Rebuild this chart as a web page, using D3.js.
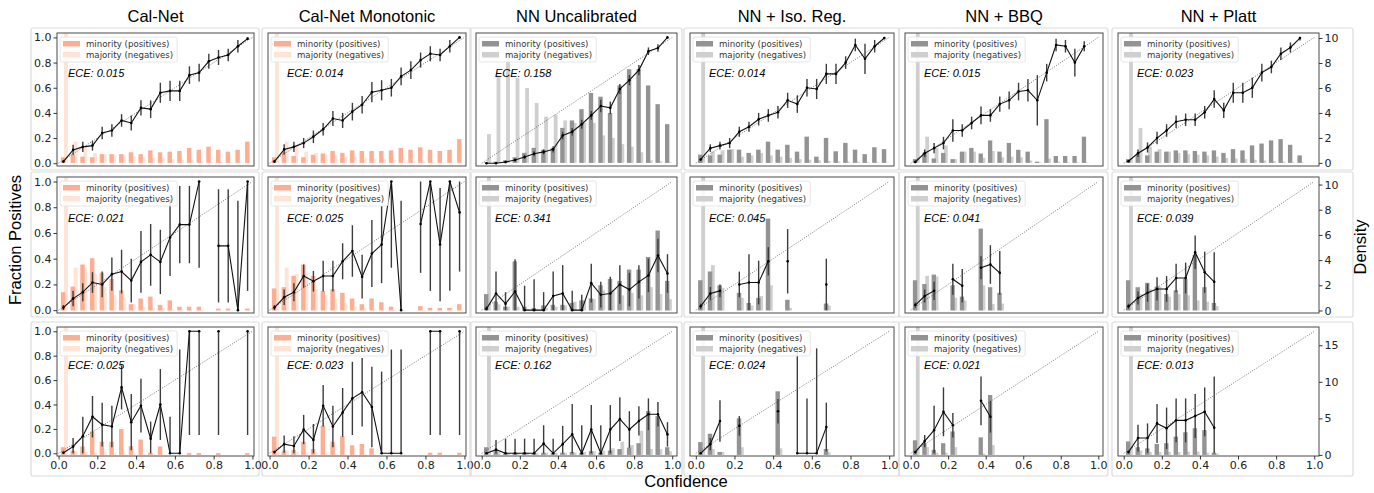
<!DOCTYPE html>
<html>
<head>
<meta charset="utf-8">
<script src="https://cdn.jsdelivr.net/npm/d3@7"></script>
<style>
body { margin: 0; background: #fff; }
text { font-family: "DejaVu Sans", sans-serif; }
</style>
</head>
<body>
<svg id="chart" width="1374" height="493"></svg>
<script>
//chart values
var methods = ["Cal-Net", "Cal-Net Monotonic", "NN Uncalibrated", "NN + Iso. Reg.", "NN + BBQ", "NN + Platt"];
var binCenters = [0.025, 0.075, 0.125, 0.175, 0.225, 0.275, 0.325, 0.375, 0.425, 0.475,
                  0.525, 0.575, 0.625, 0.675, 0.725, 0.775, 0.825, 0.875, 0.925, 0.975];
var eceValues = [
    ["0.015", "0.014", "0.158", "0.014", "0.015", "0.023"],
    ["0.021", "0.025", "0.341", "0.045", "0.041", "0.039"],
    ["0.025", "0.023", "0.162", "0.024", "0.021", "0.013"]
];
var fracTicks = [0, 0.2, 0.4, 0.6, 0.8, 1.0];
var confTicks = [0, 0.2, 0.4, 0.6, 0.8, 1.0];
var densityTicks = [[0, 2, 4, 6, 8, 10], [0, 2, 4, 6, 8, 10], [0, 5, 10, 15]];
var legendLabels = ["minority (positives)", "majority (negatives)"];

//fraction of positives per bin (row 1)
var frac0 = [
    [0.013, 0.106, 0.13, 0.14, 0.24, 0.26, 0.34, 0.32, 0.44, 0.43, 0.56, 0.575, 0.575, 0.70, 0.72, 0.81, 0.84, 0.86, 0.93, 0.99],
    [0.013, 0.11, 0.13, 0.16, 0.21, 0.27, 0.355, 0.34, 0.41, 0.465, 0.565, 0.58, 0.60, 0.69, 0.74, 0.82, 0.87, 0.86, 0.93, 1.0],
    [0.0, 0.0, 0.01, 0.025, 0.05, 0.075, 0.09, 0.11, 0.22, 0.25, 0.31, 0.38, 0.455, 0.44, 0.59, 0.66, 0.74, 0.89, 0.915, 1.0],
    [0.03, 0.12, 0.14, 0.16, 0.25, 0.29, 0.35, 0.38, 0.405, 0.50, 0.47, 0.60, 0.59, 0.71, 0.71, 0.80, 0.94, 0.83, 0.93, 0.995],
    [0.01, 0.08, 0.12, 0.16, 0.26, 0.26, 0.32, 0.38, 0.38, 0.47, 0.50, 0.57, 0.58, 0.50, 0.72, 0.94, 0.93, 0.80, 0.93, null],
    [0.016, 0.08, 0.125, 0.2, 0.26, 0.33, 0.345, 0.345, 0.405, 0.51, 0.42, 0.56, 0.56, 0.60, 0.72, 0.765, 0.87, 0.92, 0.995, null]
];
var err0 = [
    [0.01, 0.04, 0.04, 0.04, 0.05, 0.05, 0.05, 0.06, 0.06, 0.07, 0.08, 0.08, 0.08, 0.07, 0.07, 0.06, 0.06, 0.05, 0.05, 0.01],
    [0.01, 0.04, 0.04, 0.04, 0.05, 0.05, 0.06, 0.06, 0.07, 0.07, 0.08, 0.08, 0.07, 0.07, 0.07, 0.06, 0.06, 0.05, 0.05, 0.01],
    [0.005, 0.005, 0.01, 0.01, 0.015, 0.02, 0.02, 0.025, 0.03, 0.03, 0.035, 0.035, 0.05, 0.05, 0.04, 0.04, 0.04, 0.03, 0.03, 0.01],
    [0.01, 0.03, 0.03, 0.04, 0.04, 0.04, 0.05, 0.05, 0.05, 0.06, 0.07, 0.07, 0.08, 0.08, 0.08, 0.05, 0.05, 0.12, 0.05, 0.01],
    [0.01, 0.03, 0.04, 0.05, 0.09, 0.05, 0.05, 0.07, 0.05, 0.06, 0.07, 0.07, 0.09, 0.2, 0.07, 0.05, 0.05, 0.11, 0.04, null],
    [0.01, 0.03, 0.04, 0.05, 0.05, 0.05, 0.05, 0.05, 0.05, 0.07, 0.06, 0.08, 0.08, 0.08, 0.07, 0.05, 0.05, 0.04, 0.02, null]
];
var min0 = [
    [0.45, 0.65, 0.5, 0.45, 0.7, 0.7, 0.7, 0.85, 0.7, 1.0, 0.85, 0.9, 0.95, 1.2, 1.05, 1.3, 1.05, 0.9, 1.05, 1.7],
    [0.45, 0.9, 0.55, 0.45, 0.65, 0.75, 0.95, 0.8, 1.0, 0.95, 0.95, 0.95, 1.0, 1.2, 1.05, 1.25, 1.05, 0.95, 1.05, 1.9],
    [0.05, 0.1, 0.2, 0.45, 0.8, 1.2, 1.05, 1.2, 2.8, 3.4, 4.3, 5.6, 5.3, 4.0, 6.2, 7.5, 7.5, 6.2, 4.7, 3.1],
    [0.66, 0.6, 0.66, 1.06, 1.06, 0.8, 1.06, 1.7, 1.06, 1.45, 0.9, 2.1, 0.5, 2.0, 0.93, 1.6, 1.06, 0.7, 1.25, 1.1],
    [0.3, 0.8, 0.35, 0.8, 0.3, 0.9, 1.2, 0.75, 1.8, 0.9, 1.6, 1.05, 0.9, 0.1, 3.5, 0.55, 0.55, 0.55, 2.1, 0],
    [0.3, 0.7, 0.6, 0.9, 0.9, 1.0, 1.0, 0.95, 0.9, 1.0, 0.8, 1.1, 1.0, 1.4, 1.55, 1.8, 1.9, 1.45, 0.6, 0]
];
var maj0 = [
    [20, 1.7, 1.4, 0.8, 0.7, 0.65, 0.6, 0.5, 0.45, 0.4, 0.35, 0.3, 0.25, 0.2, 0.15, 0.12, 0.1, 0.06, 0.04, 0.02],
    [20, 1.7, 1.45, 0.9, 0.8, 0.7, 0.6, 0.5, 0.45, 0.4, 0.35, 0.3, 0.25, 0.2, 0.15, 0.1, 0.08, 0.05, 0.04, 0.02],
    [2.3, 7.0, 9.3, 6.8, 6.0, 4.8, 3.7, 3.85, 3.4, 3.2, 3.2, 3.2, 2.2, 2.0, 1.5, 1.3, 0.85, 0.2, 0.13, 0.05],
    [20, 0.9, 1.0, 1.1, 0.5, 0.6, 0.8, 0.6, 0.5, 0.4, 0.3, 0.25, 0.2, 0.15, 0.12, 0.1, 0.08, 0.05, 0.04, 0.02],
    [20, 2.1, 1.2, 1.4, 0.3, 0.9, 0.9, 0.4, 0.95, 0.45, 0.5, 0.45, 0.2, 0.05, 0.35, 0.1, 0.05, 0.05, 0.05, 0],
    [20, 2.8, 1.3, 1.1, 0.9, 0.8, 0.7, 0.65, 0.6, 0.5, 0.4, 0.35, 0.3, 0.25, 0.2, 0.15, 0.1, 0.05, 0.05, 0]
];

//row 2
var frac1 = [
    [0.02, 0.09, 0.14, 0.215, 0.20, 0.28, 0.30, 0.23, 0.375, 0.43, 0.375, 0.565, 0.665, 0.665, 1.0, null, 0.5, 0.5, 0.0, 1.0],
    [0.02, 0.10, 0.14, 0.265, 0.225, 0.265, 0.265, 0.38, 0.46, 0.26, 0.44, 0.51, 1.0, 0.0, null, 0.67, 1.0, 0.51, 1.0, 0.76],
    [0.01, 0.13, 0.05, 0.145, 0.0, 0.0, 0.0, 0.11, 0.13, 0.0, 0.0, 0.21, 0.12, 0.13, 0.2, 0.16, 0.22, 0.27, 0.425, 0.285],
    [0.03, 0.13, 0.15, null, 0.2, 0.215, 0.215, 0.38, null, 0.38, null, null, null, 0.2, null, null, null, null, null, null],
    [0.04, 0.11, 0.15, null, 0.24, 0.19, null, 0.33, 0.355, 0.29, null, null, null, null, null, null, null, null, null, null],
    [0.03, 0.095, 0.135, 0.165, 0.165, 0.25, 0.25, 0.45, 0.295, 0.22, null, null, null, null, null, null, null, null, null, null]
];
var err1 = [
    [0.02, 0.06, 0.07, 0.08, 0.1, 0.13, 0.17, 0.17, 0.24, 0.24, 0.25, 0.3, 0.3, 0.3, 0.67, null, 0.44, 0.44, 0.85, 0.85],
    [0.02, 0.06, 0.07, 0.09, 0.08, 0.12, 0.12, 0.14, 0.2, 0.17, 0.26, 0.3, 0.67, 0.85, null, 0.38, 0.85, 0.44, 0.85, 0.46],
    [0.02, 0.17, 0.09, 0.25, 0.19, 0.24, 0.14, 0.19, 0.22, 0.15, 0.12, 0.15, 0.1, 0.13, 0.15, 0.13, 0.13, 0.13, 0.13, 0.15],
    [0.02, 0.05, 0.05, null, 0.1, 0.22, 0.17, 0.11, null, 0.25, null, null, null, 0.2, null, null, null, null, null, null],
    [0.02, 0.05, 0.07, null, 0.12, 0.13, null, 0.09, 0.15, 0.17, null, null, null, null, null, null, null, null, null, null],
    [0.02, 0.05, 0.07, 0.09, 0.1, 0.11, 0.12, 0.13, 0.16, 0.23, null, null, null, null, null, null, null, null, null, null]
];
var min1 = [
    [1.45, 1.9, 3.65, 4.15, 3.0, 2.5, 1.6, 0.5, 0.95, 1.1, 0.45, 0.8, 0.3, 0.3, 0.3, 0, 0.15, 0.15, 0, 0.15],
    [1.75, 1.85, 2.75, 3.65, 2.75, 1.55, 1.7, 1.4, 0.95, 0.5, 0.95, 0.65, 0.3, 0, 0, 0.35, 0.2, 0.2, 0.2, 0.5],
    [1.3, 0.7, 0.3, 3.9, 0.3, 0.2, 0.4, 0.45, 0.45, 0.6, 0.8, 0.95, 2.0, 2.5, 2.35, 3.25, 3.25, 4.25, 6.35, 2.35],
    [2.4, 3.1, 2.0, 0, 1.4, 0.6, 1.0, 7.3, 0, 0.85, 0, 0, 0, 0.55, 0, 0, 0, 0, 0, 0],
    [2.4, 2.1, 2.85, 0, 2.0, 1.1, 0, 6.5, 1.85, 1.4, 0, 0, 0, 0, 0, 0, 0, 0, 0, 0],
    [2.4, 1.85, 2.2, 1.9, 1.3, 1.6, 2.5, 4.4, 1.85, 0.6, 0, 0, 0, 0, 0, 0, 0, 0, 0, 0]
];
var maj1 = [
    [20, 3.4, 3.4, 2.9, 1.9, 1.2, 1.0, 0.5, 0.3, 0.2, 0.2, 0.1, 0.05, 0.05, 0.03, 0, 0.02, 0.02, 0.01, 0.01],
    [20, 3.4, 2.9, 2.9, 1.7, 1.2, 0.9, 0.6, 0.3, 0.2, 0.1, 0.05, 0.05, 0.02, 0, 0.02, 0.01, 0.01, 0.01, 0.02],
    [20, 0.5, 0.3, 0.3, 0.1, 0.1, 0.2, 0.3, 0.4, 0.7, 0.8, 0.9, 1.6, 1.6, 1.2, 1.4, 1.2, 1.85, 1.3, 0.9],
    [20, 3.6, 1.8, 0, 1.0, 0.4, 1.15, 2.0, 0, 0.2, 0, 0, 0, 0.4, 0, 0, 0, 0, 0, 0],
    [20, 2.75, 2.7, 0, 1.0, 0.8, 0, 2.0, 0.5, 0.55, 0, 0, 0, 0, 0, 0, 0, 0, 0, 0],
    [20, 1.3, 1.7, 1.9, 1.1, 1.3, 1.2, 0.8, 0.7, 0.35, 0, 0, 0, 0, 0, 0, 0, 0, 0, 0]
];

//row 3
var frac2 = [
    [0.005, 0.055, 0.14, 0.30, 0.235, 0.22, 0.54, 0.255, 0.39, 0.12, 0.40, 0, 0, 1.0, 1.0, null, 1.0, null, null, 1.0],
    [0.01, 0.075, 0.06, 0.195, 0.11, 0.39, 0.22, 0.335, 0.45, 0.50, 0.38, 0, 0, 0, null, null, 1.0, 1.0, null, 1.0],
    [0, 0.03, 0, 0, 0, 0, 0.08, 0, 0.075, 0.155, 0, 0.195, 0, 0.195, 0.28, 0.195, 0.265, 0.32, 0.32, 0.155],
    [0, 0.075, 0.265, null, 0.225, null, null, null, 0.345, null, 0, 0, 0, 0.215, null, null, null, null, null, null],
    [0.01, 0.10, 0.19, 0.34, 0.23, null, null, 0.43, 0.30, null, null, null, null, null, null, null, null, null, null, null],
    [0.01, 0.125, 0.125, 0.245, 0.205, 0.27, 0.27, 0.305, 0.34, 0.21, null, null, null, null, null, null, null, null, null, null]
];
var err2 = [
    [0.01, 0.07, 0.16, 0.17, 0.18, 0.17, 0.18, 0.23, 0.22, 0.14, 0.29, 0.3, 0.85, 0.85, 0.85, null, 0.85, null, null, 0.85],
    [0.01, 0.07, 0.08, 0.12, 0.13, 0.17, 0.17, 0.2, 0.3, 0.28, 0.33, 0.67, 0.85, 0.85, null, null, 0.85, 0.85, null, 0.85],
    [0.01, 0.08, 0.12, 0.12, 0.12, 0.12, 0.15, 0.12, 0.15, 0.25, 0.23, 0.2, 0.23, 0.2, 0.18, 0.15, 0.12, 0.13, 0.1, 0.1],
    [0.01, 0.05, 0.17, null, 0.08, null, null, null, 0.1, null, 0.85, 0.45, 0.86, 0.2, null, null, null, null, null, null],
    [0.01, 0.05, 0.2, 0.2, 0.1, null, null, 0.2, 0.13, null, null, null, null, null, null, null, null, null, null, null],
    [0.01, 0.11, 0.12, 0.16, 0.17, 0.18, 0.18, 0.18, 0.2, 0.42, null, null, null, null, null, null, null, null, null, null]
];
var min2 = [
    [1.05, 0.6, 1.15, 3.2, 1.8, 1.8, 3.55, 1.2, 2.1, 0.3, 1.15, 0, 0, 0.25, 0.25, 0, 0.25, 0, 0, 0.25],
    [2.5, 0.6, 0.7, 1.8, 0.8, 4.0, 1.8, 2.55, 1.3, 1.5, 0.9, 0, 0, 0, 0, 0, 0.3, 0.3, 0, 0.3],
    [1.05, 0.5, 0.2, 0.3, 0.3, 0.2, 0.3, 0.2, 0.3, 0.4, 0.3, 0.5, 0.3, 0.6, 0.8, 1.0, 1.6, 6.0, 5.3, 1.05],
    [1.75, 2.9, 0.4, 0, 5.0, 0, 0, 0, 8.7, 0, 0, 0, 0, 0.8, 0, 0, 0, 0, 0, 0],
    [2.0, 1.6, 0.7, 1.6, 3.2, 0, 0, 2.4, 8.2, 0, 0, 0, 0, 0, 0, 0, 0, 0, 0, 0],
    [1.85, 1.05, 0.9, 1.5, 1.6, 2.5, 3.1, 3.65, 3.4, 0.3, 0, 0, 0, 0, 0, 0, 0, 0, 0, 0]
];
var maj2 = [
    [20, 0.5, 0.4, 0.3, 0.3, 0.3, 0.2, 0.2, 0.1, 0.1, 0.05, 0, 0, 0.02, 0.02, 0, 0.02, 0, 0, 0.02],
    [20, 0.6, 0.4, 0.4, 0.3, 0.2, 0.2, 0.15, 0.1, 0.1, 0.05, 0, 0, 0, 0, 0, 0.02, 0.02, 0, 0.02],
    [20, 0.4, 0.3, 0.3, 0.3, 0.3, 0.3, 0.3, 0.3, 0.3, 0.4, 0.5, 0.6, 0.9, 1.8, 1.35, 3.3, 0.8, 0.8, 0.5],
    [20, 0.8, 0.4, 0, 1.05, 0, 0, 0, 0.9, 0, 0, 0, 0, 0.35, 0, 0, 0, 0, 0, 0],
    [20, 1.05, 0.3, 0.3, 1.05, 0, 0, 0.2, 1.35, 0, 0, 0, 0, 0, 0, 0, 0, 0, 0, 0],
    [20, 0.6, 0.4, 0.4, 0.4, 0.4, 0.45, 0.45, 0.3, 0.2, 0, 0, 0, 0, 0, 0, 0, 0, 0, 0]
];

var fracRows = [frac0, frac1, frac2];
var errRows = [err0, err1, err2];
var minRows = [min0, min1, min2];
var majRows = [maj0, maj1, maj2];

//layout (pixel bounds of every plot area) and scale domains
var colBounds = [[57, 254], [268, 466], [476, 677], [690, 894], [905, 1103], [1118, 1319]];
var rowBounds = [[33, 166], [177, 313], [327, 456]];
var xDomains = [[-0.008, 1.008], [-0.008, 1.008], [-0.03, 1.025], [-0.03, 1.025], [-0.03, 1.025], [-0.03, 1.025]];
var fracDomain = [-0.022, 1.035];
var densityDomains = [[-0.25, 10.4], [-0.2, 10.6], [-0.15, 17.5]];

var calColors = ["#fcae92", "#fde4d7"];
var nnColors = ["#939393", "#cfcfcf"];

var svg = d3.select("#chart");
var defs = svg.append("defs");

//column titles
methods.forEach(function(m, c) {
    svg.append("text")
        .attr("x", (colBounds[c][0] + colBounds[c][1]) / 2)
        .attr("y", 22)
        .attr("text-anchor", "middle")
        .style("font-family", "Liberation Sans, Arial, sans-serif")
        .style("font-size", "16.5px")
        .text(m);
});

for (var r = 0; r < 3; r++) {
    for (var c = 0; c < 6; c++) {
        drawPanel(r, c);
    }
}

function drawPanel(r, c) {
    var left = colBounds[c][0], right = colBounds[c][1];
    var top = rowBounds[r][0], bottom = rowBounds[r][1];
    var x = d3.scaleLinear().domain(xDomains[c]).range([left, right]);
    var y = d3.scaleLinear().domain(fracDomain).range([bottom, top]);
    var yd = d3.scaleLinear().domain(densityDomains[r]).range([bottom, top]);
    var colors = c < 2 ? calColors : nnColors;

    //outer frame of the sub figure
    svg.append("rect")
        .attr("x", left - (c == 0 ? 26 : 6))
        .attr("y", top - 5)
        .attr("width", right - left + (c == 0 ? 26 : 6) + (c == 5 ? 34 : 5))
        .attr("height", bottom - top + 9 + (r == 2 ? 16 : 0))
        .attr("rx", 2)
        .attr("fill", "none")
        .attr("stroke", "#dcdcdc")
        .attr("stroke-width", 1.2);

    var clipId = "clip" + r + "_" + c;
    defs.append("clipPath").attr("id", clipId)
        .append("rect")
        .attr("x", left).attr("y", top)
        .attr("width", right - left).attr("height", bottom - top);

    var g = svg.append("g").attr("clip-path", "url(#" + clipId + ")");

    var bars = binCenters.map(function(b, i) {
        return { b: b, min: minRows[r][c][i], maj: majRows[r][c][i], f: fracRows[r][c][i], e: errRows[r][c][i] };
    });

    //density bars
    g.selectAll(".maj").data(bars.filter(function(d) { return d.maj > 0; }))
        .enter().append("rect")
        .attr("x", function(d) { return x(d.b + 0.003); })
        .attr("width", function(d) { return x(d.b + 0.023) - x(d.b + 0.003); })
        .attr("y", function(d) { return yd(d.maj); })
        .attr("height", function(d) { return yd(0) - yd(d.maj); })
        .attr("fill", colors[1]);

    g.selectAll(".min").data(bars.filter(function(d) { return d.min > 0; }))
        .enter().append("rect")
        .attr("x", function(d) { return x(d.b - 0.013); })
        .attr("width", function(d) { return x(d.b + 0.01) - x(d.b - 0.013); })
        .attr("y", function(d) { return yd(d.min); })
        .attr("height", function(d) { return yd(0) - yd(d.min); })
        .attr("fill", colors[0]);

    //perfect calibration diagonal
    g.append("line")
        .attr("x1", x(0)).attr("y1", y(0))
        .attr("x2", x(1)).attr("y2", y(1))
        .attr("stroke", "#555")
        .attr("stroke-width", 0.8)
        .attr("stroke-dasharray", "1,1.5");

    var pts = bars.filter(function(d) { return d.f != null; });

    //error bars
    g.selectAll(".err").data(pts)
        .enter().append("line")
        .attr("x1", function(d) { return x(d.b); })
        .attr("x2", function(d) { return x(d.b); })
        .attr("y1", function(d) { return y(Math.max(0, d.f - d.e)); })
        .attr("y2", function(d) { return y(Math.min(1, d.f + d.e)); })
        .attr("stroke", "#3c3c3c")
        .attr("stroke-width", 1.4);

    //calibration curve
    var curve = d3.line()
        .defined(function(d) { return d.f != null; })
        .x(function(d) { return x(d.b); })
        .y(function(d) { return y(d.f); });
    g.append("path")
        .attr("d", curve(bars))
        .attr("fill", "none")
        .attr("stroke", "#111")
        .attr("stroke-width", 1.1);

    g.selectAll(".pt").data(pts)
        .enter().append("circle")
        .attr("cx", function(d) { return x(d.b); })
        .attr("cy", function(d) { return y(d.f); })
        .attr("r", 1.3)
        .attr("fill", "#000");

    //plot box
    svg.append("rect")
        .attr("x", left).attr("y", top)
        .attr("width", right - left).attr("height", bottom - top)
        .attr("fill", "none")
        .attr("stroke", "#4a4a4a")
        .attr("stroke-width", 1);

    //legend
    var lg = svg.append("g").attr("transform", "translate(" + (left + 3) + "," + (top + 4) + ")");
    var lbox = lg.append("rect")
        .attr("width", 106).attr("height", 25).attr("rx", 2)
        .attr("fill", "#fff").attr("fill-opacity", 0.85)
        .attr("stroke", "#e0e0e0").attr("stroke-width", 0.8);
    var maxW = 0;
    legendLabels.forEach(function(lab, i) {
        lg.append("rect")
            .attr("x", 3).attr("y", 4 + i * 11)
            .attr("width", 17).attr("height", 5.5)
            .attr("fill", colors[i]);
        var t = lg.append("text")
            .attr("x", 26).attr("y", 10 + i * 11)
            .style("font-size", "8.6px")
            .style("fill", "#333")
            .text(lab);
        maxW = Math.max(maxW, t.node().getComputedTextLength());
    });
    lbox.attr("width", 26 + maxW + 4);

    //ECE annotation
    svg.append("text")
        .attr("x", left + (c == 0 ? 11 : 19))
        .attr("y", y(0.72) + 4)
        .style("font-family", "Liberation Sans, Arial, sans-serif")
        .style("font-style", "italic")
        .style("font-size", "11px")
        .text("ECE: " + eceValues[r][c]);

    //axes
    if (c == 0) {
        var ax = svg.append("g").attr("transform", "translate(" + left + ",0)")
            .call(d3.axisLeft(y).tickValues(fracTicks).tickFormat(d3.format(".1f")).tickSize(3.5).tickPadding(2));
        styleAxis(ax);
    }
    if (c == 5) {
        var axr = svg.append("g").attr("transform", "translate(" + right + ",0)")
            .call(d3.axisRight(yd).tickValues(densityTicks[r]).tickSize(3.5).tickPadding(2));
        styleAxis(axr);
    }
    if (r == 2) {
        var axb = svg.append("g").attr("transform", "translate(0," + bottom + ")")
            .call(d3.axisBottom(x).tickValues(confTicks).tickFormat(d3.format(".1f")).tickSize(3.5).tickPadding(1.5));
        styleAxis(axb);
    }
}

function styleAxis(a) {
    a.select(".domain").remove();
    a.selectAll(".tick line").attr("stroke", "#333");
    a.selectAll(".tick text")
        .style("font-family", "DejaVu Sans, sans-serif")
        .style("font-size", "11px")
        .attr("fill", "#222");
}

//axis titles
svg.append("text")
    .attr("transform", "translate(21,240) rotate(-90)")
    .attr("text-anchor", "middle")
    .style("font-family", "Liberation Sans, Arial, sans-serif")
    .style("font-size", "16.5px")
    .text("Fraction Positives");

svg.append("text")
    .attr("transform", "translate(1366,247) rotate(-90)")
    .attr("text-anchor", "middle")
    .style("font-family", "Liberation Sans, Arial, sans-serif")
    .style("font-size", "16.5px")
    .text("Density");

svg.append("text")
    .attr("x", 686)
    .attr("y", 487)
    .attr("text-anchor", "middle")
    .style("font-family", "Liberation Sans, Arial, sans-serif")
    .style("font-size", "16.5px")
    .text("Confidence");
</script>
</body>
</html>
